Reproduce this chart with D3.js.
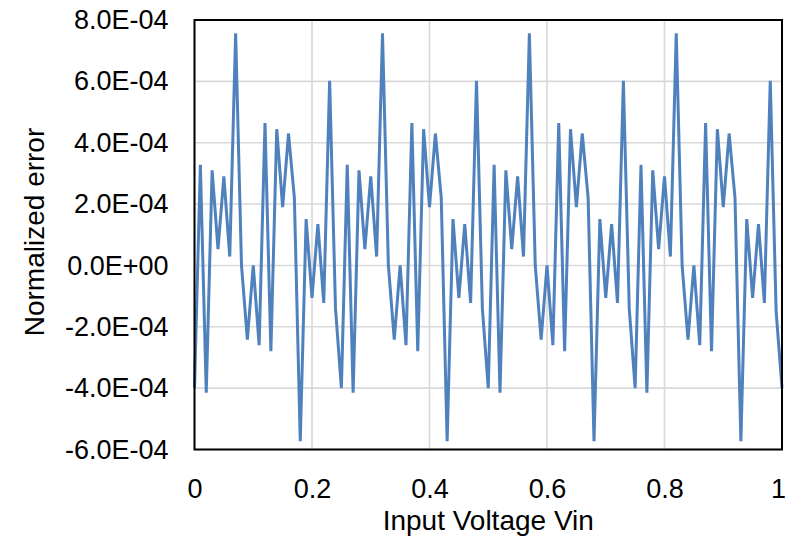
<!DOCTYPE html>
<html>
<head>
<meta charset="utf-8">
<script src="https://cdn.jsdelivr.net/npm/d3@7"></script>
<style>
  body { margin: 0; background: #fff; }
  svg text { font-family: "Liberation Sans", Arial, sans-serif; fill: #000; }
</style>
</head>
<body>
<div id="chart"></div>
<script>
var font = "Liberation Sans";
var lineColor = "#4F81BD";
var gridColor = "#D9D9D9";

// input voltage (x) and normalized error (y), 0.01 steps
var vin = [
  0.00, 0.01, 0.02, 0.03, 0.04, 0.05, 0.06, 0.07, 0.08, 0.09,
  0.10, 0.11, 0.12, 0.13, 0.14, 0.15, 0.16, 0.17, 0.18, 0.19,
  0.20, 0.21, 0.22, 0.23, 0.24, 0.25, 0.26, 0.27, 0.28, 0.29,
  0.30, 0.31, 0.32, 0.33, 0.34, 0.35, 0.36, 0.37, 0.38, 0.39,
  0.40, 0.41, 0.42, 0.43, 0.44, 0.45, 0.46, 0.47, 0.48, 0.49,
  0.50, 0.51, 0.52, 0.53, 0.54, 0.55, 0.56, 0.57, 0.58, 0.59,
  0.60, 0.61, 0.62, 0.63, 0.64, 0.65, 0.66, 0.67, 0.68, 0.69,
  0.70, 0.71, 0.72, 0.73, 0.74, 0.75, 0.76, 0.77, 0.78, 0.79,
  0.80, 0.81, 0.82, 0.83, 0.84, 0.85, 0.86, 0.87, 0.88, 0.89,
  0.90, 0.91, 0.92, 0.93, 0.94, 0.95, 0.96, 0.97, 0.98, 0.99,
  1.00
];
var error = [
  -4.00e-4, 3.28e-4, -4.15e-4, 3.10e-4, 0.53e-4, 2.90e-4, 0.29e-4, 7.57e-4, 0.00e-4, -2.42e-4,
  0.00e-4, -2.60e-4, 4.64e-4, -2.80e-4, 4.44e-4, 1.90e-4, 4.30e-4, 2.20e-4, -5.73e-4, 1.51e-4,
  -1.06e-4, 1.35e-4, -1.22e-4, 6.02e-4, -1.40e-4, -4.00e-4, 3.28e-4, -4.15e-4, 3.10e-4, 0.53e-4,
  2.90e-4, 0.29e-4, 7.57e-4, 0.00e-4, -2.42e-4, 0.00e-4, -2.60e-4, 4.64e-4, -2.80e-4, 4.44e-4,
  1.90e-4, 4.30e-4, 2.20e-4, -5.73e-4, 1.51e-4, -1.06e-4, 1.35e-4, -1.22e-4, 6.02e-4, -1.40e-4,
  -4.00e-4, 3.28e-4, -4.15e-4, 3.10e-4, 0.53e-4, 2.90e-4, 0.29e-4, 7.57e-4, 0.00e-4, -2.42e-4,
  0.00e-4, -2.60e-4, 4.64e-4, -2.80e-4, 4.44e-4, 1.90e-4, 4.30e-4, 2.20e-4, -5.73e-4, 1.51e-4,
  -1.06e-4, 1.35e-4, -1.22e-4, 6.02e-4, -1.40e-4, -4.00e-4, 3.28e-4, -4.15e-4, 3.10e-4, 0.53e-4,
  2.90e-4, 0.29e-4, 7.57e-4, 0.00e-4, -2.42e-4, 0.00e-4, -2.60e-4, 4.64e-4, -2.80e-4, 4.44e-4,
  1.90e-4, 4.30e-4, 2.20e-4, -5.73e-4, 1.51e-4, -1.06e-4, 1.35e-4, -1.22e-4, 6.02e-4, -1.50e-4,
  -4.00e-4
];

var xTicks = [0, 0.2, 0.4, 0.6, 0.8, 1];
var xTickLabels = ["0", "0.2", "0.4", "0.6", "0.8", "1"];
var yTicks = [-6e-4, -4e-4, -2e-4, 0, 2e-4, 4e-4, 6e-4, 8e-4];
var yTickLabels = ["-6.0E-04", "-4.0E-04", "-2.0E-04", "0.0E+00", "2.0E-04", "4.0E-04", "6.0E-04", "8.0E-04"];

var xTitle = "Input Voltage Vin";
var yTitle = "Normalized error";

var width = 786, height = 536;
var plot = {left: 194.5, right: 782, top: 20, bottom: 449.5};

var svg = d3.select("#chart").append("svg")
    .attr("width", width)
    .attr("height", height);

var x = d3.scaleLinear().domain([0, 1]).range([plot.left, plot.right]);
var y = d3.scaleLinear().domain([-6e-4, 8e-4]).range([plot.bottom, plot.top]);

/* grid */
svg.append("g").selectAll("line.h")
    .data(yTicks)
    .enter().append("line")
    .attr("x1", plot.left).attr("x2", plot.right)
    .attr("y1", function(d) { return y(d); })
    .attr("y2", function(d) { return y(d); })
    .attr("stroke", gridColor)
    .attr("stroke-width", 1.6);

svg.append("g").selectAll("line.v")
    .data(xTicks)
    .enter().append("line")
    .attr("x1", function(d) { return x(d); })
    .attr("x2", function(d) { return x(d); })
    .attr("y1", plot.top).attr("y2", plot.bottom)
    .attr("stroke", gridColor)
    .attr("stroke-width", 1.6);

/* series */
var points = vin.map(function(v, i) { return [v, error[i]]; });
var line = d3.line()
    .x(function(d) { return x(d[0]); })
    .y(function(d) { return y(d[1]); });

svg.append("path")
    .datum(points)
    .attr("d", line)
    .attr("fill", "none")
    .attr("stroke", lineColor)
    .attr("stroke-width", 3)
    .attr("stroke-linejoin", "miter");

/* frame */
svg.append("rect")
    .attr("x", plot.left).attr("y", plot.top)
    .attr("width", plot.right - plot.left)
    .attr("height", plot.bottom - plot.top)
    .attr("fill", "none")
    .attr("stroke", "#000")
    .attr("stroke-width", 2);

/* axes */
var xAxis = d3.axisBottom(x)
    .tickValues(xTicks)
    .tickFormat(function(d, i) { return xTickLabels[i]; })
    .tickSize(0)
    .tickPadding(29);

var yAxis = d3.axisLeft(y)
    .tickValues(yTicks)
    .tickFormat(function(d, i) { return yTickLabels[i]; })
    .tickSize(0)
    .tickPadding(26);

var gx = svg.append("g")
    .attr("transform", "translate(0," + plot.bottom + ")")
    .call(xAxis);
var gy = svg.append("g")
    .attr("transform", "translate(" + plot.left + ",0)")
    .call(yAxis);

[gx, gy].forEach(function(g) {
  g.select(".domain").remove();
  g.selectAll("text")
      .style("font-family", font)
      .style("font-size", "27px")
      .attr("fill", "#000");
});

// keep the last x label inside the picture
gx.selectAll(".tick text")
    .filter(function(d, i) { return i == xTicks.length - 1; })
    .attr("dx", "-4");

/* titles */
svg.append("text")
    .attr("x", (plot.left + plot.right) / 2)
    .attr("y", 530)
    .attr("text-anchor", "middle")
    .style("font-size", "28px")
    .text(xTitle);

svg.append("text")
    .attr("transform", "translate(44," + 232 + ") rotate(-90)")
    .attr("text-anchor", "middle")
    .style("font-size", "28px")
    .text(yTitle);
</script>
</body>
</html>
